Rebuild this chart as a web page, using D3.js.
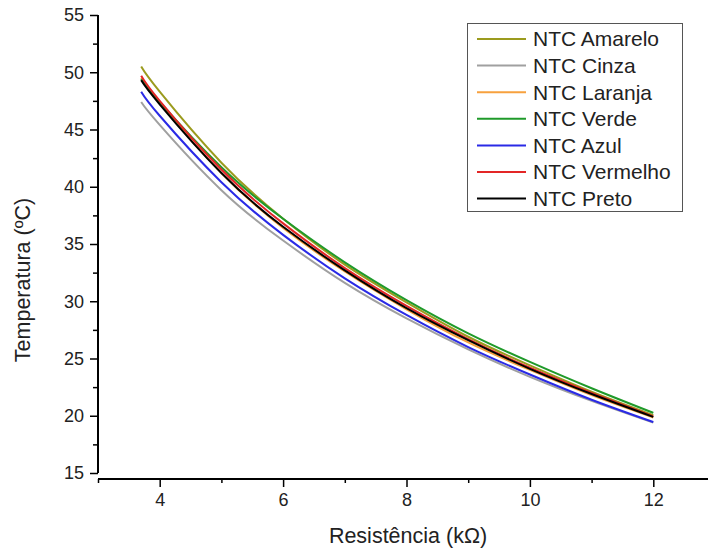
<!DOCTYPE html>
<html><head><meta charset="utf-8">
<script src="https://cdn.jsdelivr.net/npm/d3@7"></script>
<style>
html,body{margin:0;padding:0;background:#fff;}
svg{display:block;font-family:"Liberation Sans",Arial,sans-serif;}
</style></head>
<body>
<svg id="chart" width="708" height="548"></svg>
<script>
// Data
const resistance = [3.7, 4, 5, 6, 7, 8, 9, 10, 11, 12];
const seriesNames = ["NTC Amarelo","NTC Cinza","NTC Laranja","NTC Verde","NTC Azul","NTC Vermelho","NTC Preto"];
const seriesColors = ["#9b9b1e","#a0a0a0","#f7a13e","#1f9a2a","#2a2ae6","#e32626","#000000"];
const amarelo  = [50.5, 48.3, 42.1, 37.2, 33.2, 29.9, 26.9, 24.4, 22.1, 20.05];
const cinza    = [47.4, 45.4, 39.7, 35.3, 31.6, 28.5, 25.8, 23.4, 21.3, 19.4];
const laranja  = [49.5, 47.3, 41.2, 36.4, 32.6, 29.3, 26.4, 24.0, 21.8, 19.85];
const verde    = [49.4, 47.4, 41.7, 37.2, 33.4, 30.1, 27.2, 24.7, 22.4, 20.25];
const azul     = [48.3, 46.2, 40.4, 35.8, 32.0, 28.8, 26.0, 23.6, 21.4, 19.45];
const vermelho = [49.7, 47.5, 41.5, 36.8, 32.9, 29.6, 26.7, 24.2, 22.0, 19.95];
const preto    = [49.3, 47.2, 41.2, 36.5, 32.7, 29.4, 26.6, 24.1, 21.9, 19.9];
const seriesValues = [amarelo, cinza, laranja, verde, azul, vermelho, preto];
const xMajorTicks = [4, 6, 8, 10, 12];
const xMinorTicks = [3, 5, 7, 9, 11, 13];
const yMajorTicks = [15, 20, 25, 30, 35, 40, 45, 50, 55];
const yMinorTicks = [17.5, 22.5, 27.5, 32.5, 37.5, 42.5, 47.5, 52.5];
const xTitle = "Resistência (kΩ)";
const yTitle = "Temperatura (ºC)";

const svg = d3.select("#chart");
const x = d3.scaleLinear().domain([3, 13]).range([98, 715]);
const y = d3.scaleLinear().domain([15, 55]).range([473, 15]);
const xAxisY = 479;

// Curves
const line = d3.line().x(d => x(d[0])).y(d => y(d[1])).curve(d3.curveNatural);
seriesValues.forEach((vals, i) => {
  svg.append("path")
    .datum(resistance.map((r, j) => [r, vals[j]]))
    .attr("fill", "none")
    .attr("stroke", seriesColors[i])
    .attr("stroke-width", 2)
    .attr("d", line);
});

// X axis
const gx = svg.append("g").attr("transform", `translate(0,${xAxisY})`);
gx.call(d3.axisBottom(x).tickValues(xMajorTicks).tickSize(8).tickPadding(6).tickFormat(d3.format("d")));
gx.append("g").call(d3.axisBottom(x).tickValues(xMinorTicks).tickSize(4).tickFormat(""));
gx.selectAll(".domain").remove();
gx.append("line").attr("x1", 98).attr("x2", 708).attr("y1", 0).attr("y2", 0).attr("stroke", "#000").attr("stroke-width", 2);
gx.selectAll(".tick line").attr("stroke", "#000").attr("stroke-width", 1.5);
gx.selectAll(".tick text").attr("font-size", 18).attr("fill", "#222").attr("font-family", "Liberation Sans, Arial, sans-serif");

// Y axis
const gy = svg.append("g").attr("transform", "translate(98,0)");
gy.call(d3.axisLeft(y).tickValues(yMajorTicks).tickSize(8).tickPadding(6).tickFormat(d3.format("d")));
gy.append("g").call(d3.axisLeft(y).tickValues(yMinorTicks).tickSize(5).tickFormat(""));
gy.selectAll(".domain").remove();
gy.append("line").attr("x1", 0).attr("x2", 0).attr("y1", y(55)).attr("y2", y(15)).attr("stroke", "#000").attr("stroke-width", 2);
gy.selectAll(".tick line").attr("stroke", "#000").attr("stroke-width", 1.5);
gy.selectAll(".tick text").attr("font-size", 18).attr("fill", "#222").attr("font-family", "Liberation Sans, Arial, sans-serif");

// Titles
svg.append("text").attr("x", 408).attr("y", 543).attr("text-anchor", "middle")
  .attr("font-size", 21.5).attr("fill", "#222").text(xTitle);
svg.append("text").attr("transform", "translate(30,280) rotate(-90)").attr("text-anchor", "middle")
  .attr("font-size", 21.5).attr("fill", "#222").text(yTitle);

// Legend
const lg = svg.append("g");
lg.append("rect").attr("x", 467.5).attr("y", 23.5).attr("width", 215).attr("height", 188)
  .attr("fill", "#fff").attr("stroke", "#555").attr("stroke-width", 1);
seriesNames.forEach((name, i) => {
  const cy = 39 + i * 26.6;
  lg.append("line").attr("x1", 477).attr("x2", 526).attr("y1", cy).attr("y2", cy)
    .attr("stroke", seriesColors[i]).attr("stroke-width", 2);
  lg.append("text").attr("x", 533).attr("y", cy).attr("dy", "0.35em")
    .attr("font-size", 21).attr("fill", "#222").text(name);
});
</script>
</body></html>
